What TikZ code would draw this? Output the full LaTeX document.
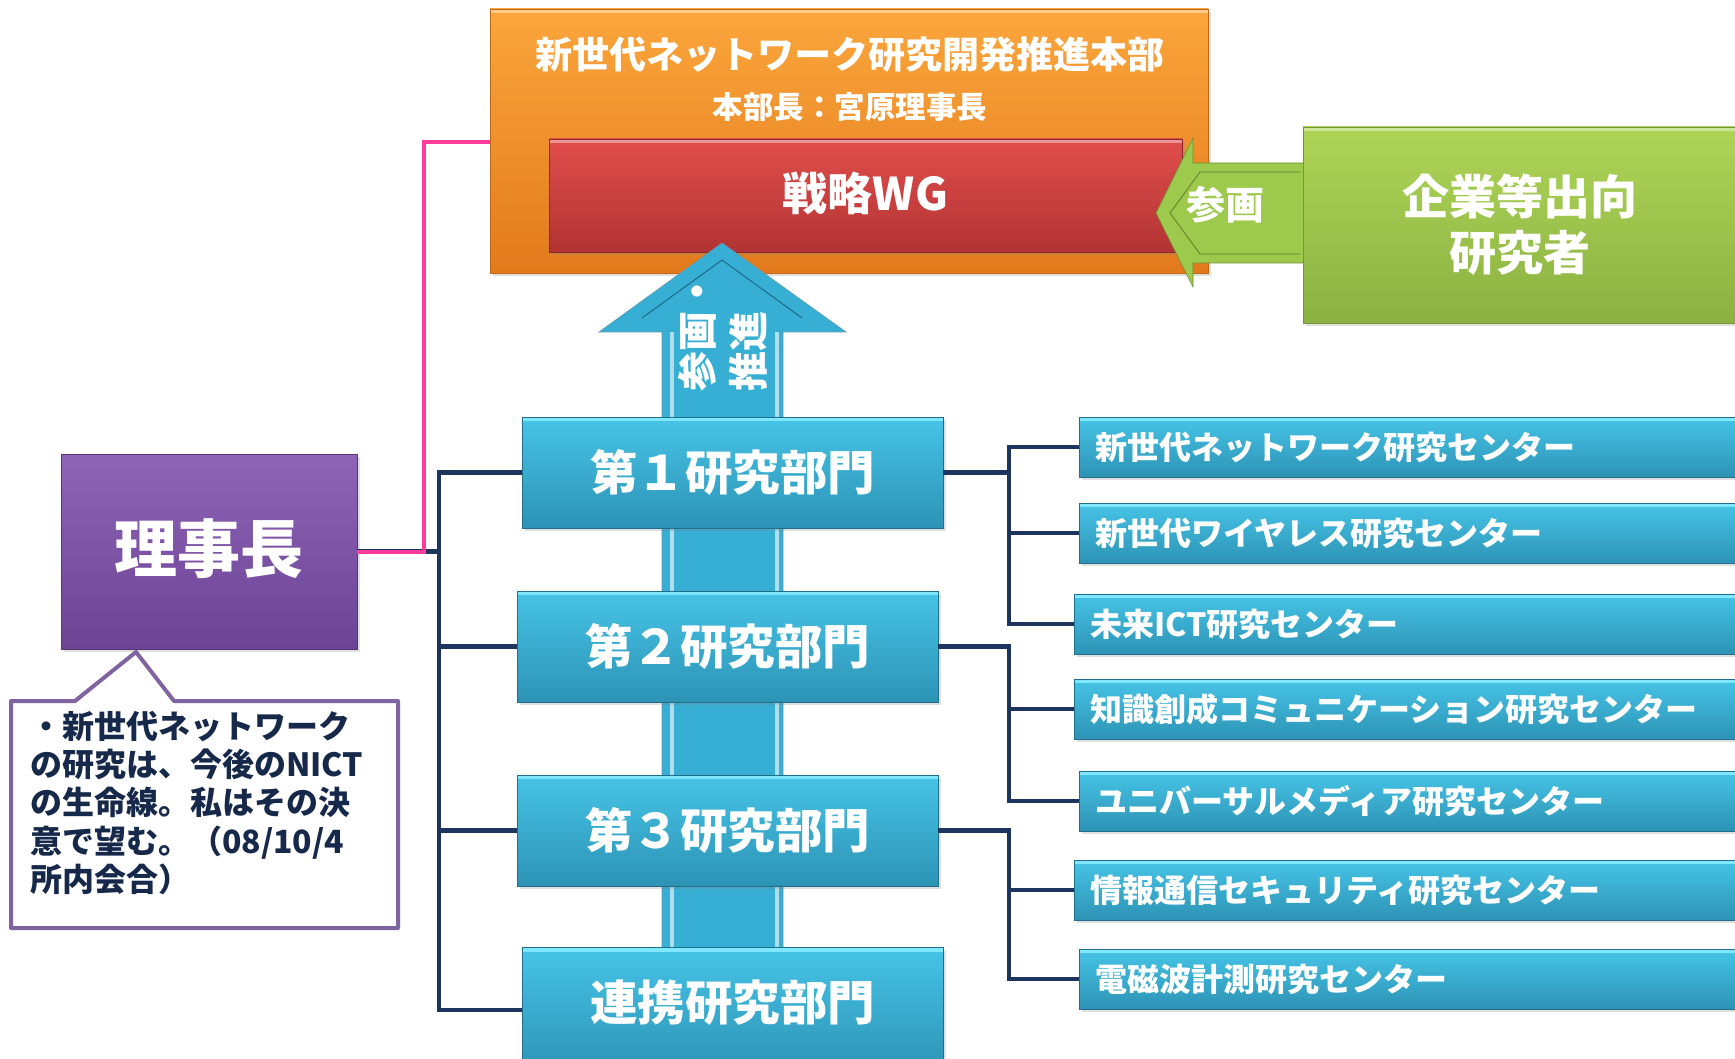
\documentclass[tikz,border=0pt]{standalone}
\usepackage{fontspec}
\setmainfont{Noto Sans CJK JP}
\usetikzlibrary{shadows}
\definecolor{orTop}{HTML}{FBA63C}
\definecolor{orBot}{HTML}{E27A1C}
\definecolor{redTop}{HTML}{E04E4C}
\definecolor{redBot}{HTML}{B23333}
\definecolor{grTop}{HTML}{AED557}
\definecolor{grBot}{HTML}{8BB142}
\definecolor{blTop}{HTML}{46C4E7}
\definecolor{blBot}{HTML}{2D93B5}
\definecolor{blEdge}{HTML}{1F6F8C}
\definecolor{blHi}{HTML}{7FE8FF}
\definecolor{puTop}{HTML}{8E64B7}
\definecolor{puBot}{HTML}{6C4494}
\definecolor{pinkL}{HTML}{FF3C9B}
\definecolor{navyL}{HTML}{1C355E}
\definecolor{callB}{HTML}{8064A2}
\definecolor{callT}{HTML}{17294A}
\definecolor{grArrow}{HTML}{9DC94C}
\definecolor{blArrow}{HTML}{37AFD5}
\tikzset{
  base/.style={rectangle, inner sep=0pt, text=white, font=\bfseries,
    drop shadow={opacity=0.25, shadow xshift=3pt, shadow yshift=-3pt}},
  tophi/.style={path picture={
    \fill[#1] (path picture bounding box.north west) rectangle ([yshift=-4pt]path picture bounding box.north east);}},
  orbox/.style={base, top color=orTop, bottom color=orBot, draw=orBot!85!black, line width=0.8pt, tophi=orTop!60!white},
  redbox/.style={base, top color=redTop, bottom color=redBot, draw=redBot!80!black, line width=0.8pt, tophi=redTop!60!white},
  grbox/.style={base, top color=grTop, bottom color=grBot, draw=grBot!85!black, line width=0.8pt, tophi=grTop!60!white},
  pubox/.style={base, top color=puTop, bottom color=puBot, draw=puBot!80!black, line width=0.8pt},
  deptbox/.style={base, top color=blTop, bottom color=blBot, draw=blEdge, line width=0.8pt, tophi=blHi,
    minimum width=421pt, minimum height=111pt, font=\bfseries\fontsize{47.5}{50}\selectfont},
  cbox/.style={base, top color=blTop, bottom color=blBot, draw=blEdge, line width=0.8pt, tophi=blHi,
    minimum height=60pt, text width=649pt, inner xsep=16pt, align=left,
    font=\bfseries\fontsize{32}{34}\selectfont},
  navyline/.style={draw=navyL, line width=4.5pt},
  pinkline/.style={draw=pinkL, line width=4pt},
  whitetext/.style={text=white, font=\bfseries, inner sep=0pt}
}
\begin{document}
\begin{tikzpicture}[x=1pt,y=-1pt]
\useasboundingbox[fill=white] (0,0) rectangle (1735,1059);
\clip (0,0) rectangle (1735,1059);

% headquarters
\node[orbox, minimum width=718pt, minimum height=264pt] (hq) at (849,141) {};
\node[whitetext, font=\bfseries\fontsize{37}{40}\selectfont] (hqt) at (850,55) {新世代ネットワーク研究開発推進本部};
\node[whitetext, font=\bfseries\fontsize{30.5}{34}\selectfont] (hqs) at (850,107) {本部長：宮原理事長};
\node[redbox, minimum width=633pt, minimum height=113pt, font=\bfseries\fontsize{45}{50}\selectfont] (wg) at (865.5,195.5) {\raisebox{9pt}{戦略WG}};

% green arrow
\fill[grArrow, draw=grBot!80!black, line width=0.6pt] (1310,163) -- (1193,163) -- (1193,138) -- (1156,213) -- (1193,287) -- (1193,263) -- (1310,263) -- cycle;
\draw[grBot!70!black, line width=0.8pt] (1300,172) -- (1200,172) -- (1170,213) -- (1200,254) -- (1300,254);
\node[whitetext, font=\bfseries\fontsize{39}{40}\selectfont] (sankaku) at (1225,205) {参画};
\node[grbox, minimum width=434pt, minimum height=196pt, align=center,
  font=\bfseries\fontsize{47}{56}\selectfont] (ent) at (1520,225) {企業等出向\\研究者};

% blue up arrow
\fill[blArrow, draw=blEdge!70, line width=0.6pt] (662,1059) -- (662,332) -- (599,332) -- (722,243) -- (846,332) -- (783,332) -- (783,1059) -- cycle;
\draw[blEdge!90!black, line width=0.9pt] (642,318) -- (722,260) -- (802,318);
\fill[white!60!blArrow] (670,332) rectangle (674,1059);
\fill[white!60!blArrow] (775,332) rectangle (779,1059);
\node[whitetext, rotate=90, align=left, font=\bfseries\fontsize{40}{51}\selectfont] (atext) at (723,331) {参画・\\推進};

% departments
\node[deptbox] (d1) at (732.5,472.5) {\raisebox{4pt}{第１研究部門}};
\node[deptbox] (d2) at (727.5,646.5) {\raisebox{4pt}{第２研究部門}};
\node[deptbox] (d3) at (727.5,830.5) {\raisebox{4pt}{第３研究部門}};
\node[deptbox, minimum height=125pt] (d4) at (732.5,1010) {\raisebox{19pt}{連携研究部門}};

% centers
\node[cbox] (c1) at (1419.5,447) {新世代ネットワーク研究センター};
\node[cbox] (c2) at (1419.5,533) {新世代ワイヤレス研究センター};
\node[cbox] (c3) at (1414.5,624) {未来ICT研究センター};
\node[cbox] (c4) at (1414.5,709) {知識創成コミュニケーション研究センター};
\node[cbox] (c5) at (1419.5,801) {ユニバーサルメディア研究センター};
\node[cbox] (c6) at (1414.5,890) {情報通信セキュリティ研究センター};
\node[cbox] (c7) at (1419.5,979) {電磁波計測研究センター};

% president
\node[pubox, minimum width=296pt, minimum height=195pt, font=\bfseries\fontsize{63}{66}\selectfont] (rj) at (209,551.5) {\raisebox{11pt}{理事長}};

% callout
\draw[callB, line width=4pt, fill=white, line join=round] (11,701) -- (75,701) -- (136,652) -- (174,701) -- (398,701) -- (398,928) -- (11,928) -- cycle;
\node[anchor=north west, align=left, inner sep=0pt, text=callT,
  font=\bfseries\fontsize{32}{38.2}\selectfont] (note) at (30,711)
  {・新世代ネットワーク\\の研究は、今後のNICT\\の生命線。私はその決\\意で望む。（08/10/4\\所内会合）};

% connectors
\coordinate (trunk) at (439,0);
\coordinate (br) at (1009,0);
\coordinate (pk) at (424,142);
\draw[navyline] (rj.east) -- (rj.east -| trunk);
\draw[navyline] (d1.west) -- (d1.west -| trunk) -- (d4.west -| trunk) -- (d4.west);
\draw[navyline] (d2.west) -- (d2.west -| trunk);
\draw[navyline] (d3.west) -- (d3.west -| trunk);
\draw[pinkline] (rj.east) -- (rj.east -| pk) -- (pk) -- (pk -| hq.west);

\draw[navyline] (d1.east) -- (d1.east -| br);
\draw[navyline] (c1.west) -- (c1.west -| br) -- (c3.west -| br) -- (c3.west);
\draw[navyline] (c2.west) -- (c2.west -| br);
\draw[navyline] (d2.east) -- (d2.east -| br) -- (c5.west -| br) -- (c5.west);
\draw[navyline] (c4.west) -- (c4.west -| br);
\draw[navyline] (d3.east) -- (d3.east -| br) -- (c7.west -| br) -- (c7.west);
\draw[navyline] (c6.west) -- (c6.west -| br);
\end{tikzpicture}
\end{document}
